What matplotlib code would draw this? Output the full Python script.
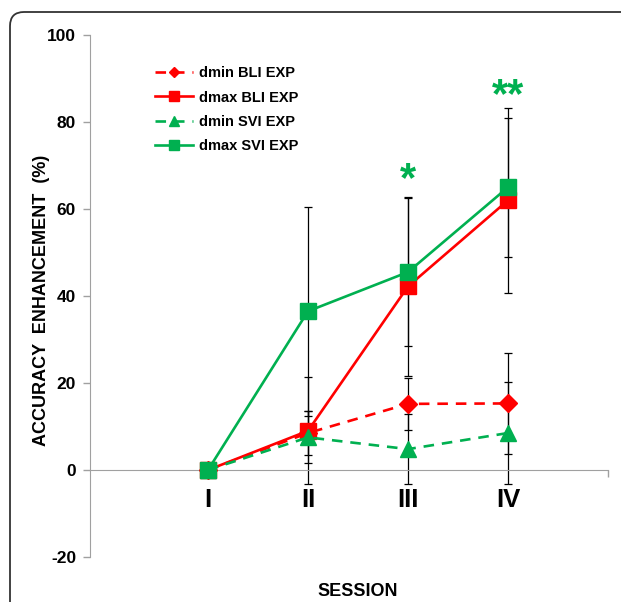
import matplotlib
matplotlib.use("Agg")
import matplotlib.pyplot as plt
from matplotlib.patches import FancyBboxPatch
from matplotlib.transforms import IdentityTransform
import numpy as np

plt.rcParams['font.family'] = ['Liberation Sans', 'DejaVu Sans']
plt.rcParams['font.weight'] = 'bold'
plt.rcParams['axes.unicode_minus'] = False

sessions = ["I", "II", "III", "IV"]
dmin_bli = [0, 8.5, 15.2, 15.3]
dmin_bli_err = [0, 5.0, 6.0, 11.7]
dmax_bli = [0, 9.0, 42.2, 62.0]
dmax_bli_err = [0, 12.3, 20.5, 21.3]
dmin_svi = [0, 7.5, 4.8, 8.5]
dmin_svi_err = [0, 6.0, 8.0, 11.8]
dmax_svi = [0, 36.5, 45.5, 65.0]
dmax_svi_err = [0, 24.0, 17.0, 16.0]
stars = {"III": "*", "IV": "**"}
star_y = {"III": 64.2, "IV": 83.5}

RED = "#FF0000"
GREEN = "#00B050"

fig = plt.figure(figsize=(6.21, 6.02), dpi=100)
ax = fig.add_axes([90/621, 1-557/602, (608-90)/621, (557-35)/602])

x = np.arange(1, len(sessions)+1)

series = [
    ("dmin BLI EXP", dmin_bli, dmin_bli_err, RED, "--", "D", 9),
    ("dmax BLI EXP", dmax_bli, dmax_bli_err, RED, "-", "s", 11),
    ("dmin SVI EXP", dmin_svi, dmin_svi_err, GREEN, "--", "^", 11),
    ("dmax SVI EXP", dmax_svi, dmax_svi_err, GREEN, "-", "s", 11),
]

for lab, vals, err, col, ls, mk, ms in series:
    ax.errorbar(x, vals, yerr=err, fmt='none', ecolor='black', elinewidth=0.9,
                capsize=3, capthick=0.9, zorder=2)
for lab, vals, err, col, ls, mk, ms in series:
    ax.plot(x, vals, color=col, linestyle=ls, linewidth=1.9, marker=mk,
            markersize=ms, markeredgecolor=col, markerfacecolor=col, label=lab,
            zorder=3, dashes=(4, 3) if ls == "--" else (None, None))

for s, txt in stars.items():
    xi = sessions.index(s) + 1
    ax.text(xi, star_y[s], txt, color=GREEN, fontsize=30, fontweight='bold',
            ha='center', va='baseline')

ax.set_xlim(-0.18, 5.0)
ax.set_ylim(-20, 100)
ax.set_yticks([-20, 0, 20, 40, 60, 80, 100])
ax.set_xticks(x)
ax.set_xticklabels(sessions)
ax.tick_params(axis='x', which='major', length=0, pad=13, labelsize=18.5)
ax.tick_params(axis='y', length=5, color='#A0A0A0', width=1, pad=5, labelsize=12.5)
for t in ax.get_yticklabels() + ax.get_xticklabels():
    t.set_fontweight('bold')

ax.set_xticks([5.0], minor=True)
ax.set_xticklabels([""], minor=True)
ax.tick_params(axis='x', which='minor', length=5, color='#A0A0A0', width=1, direction='out')

for sp in ['top', 'right']:
    ax.spines[sp].set_visible(False)
ax.spines['left'].set_color('#A0A0A0')
ax.spines['bottom'].set_color('#A0A0A0')
ax.spines['bottom'].set_position(('data', 0))

fig.text(42/621, 1-300/602, "ACCURACY  ENHANCEMENT  (%)", fontsize=13, fontweight='bold',
         rotation=90, ha='center', va='center')
fig.text(358/621, 1-592/602, "SESSION", fontsize=13, fontweight='bold', ha='center', va='center')

leg = ax.legend(loc='upper left', bbox_to_anchor=(155/621, 1-66/602),
                bbox_transform=fig.transFigure, frameon=False, fontsize=10.5,
                handlelength=2.6, handletextpad=0.45, labelspacing=0.72,
                borderpad=0, borderaxespad=0, markerscale=0.6)
for t in leg.get_texts():
    t.set_fontweight('bold')

frame = FancyBboxPatch((10, -60), 700, 590 + 60, boxstyle="round,pad=0,rounding_size=14",
                       transform=IdentityTransform(), facecolor='none',
                       edgecolor='#333333', linewidth=1.3, zorder=10)
fig.add_artist(frame)

fig.savefig("out.png", dpi=100)
